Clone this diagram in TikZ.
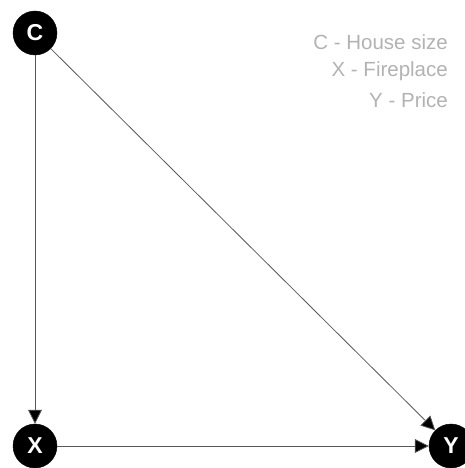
\documentclass[tikz,border=0pt]{standalone}
\usepackage{fontspec}
\setmainfont{Liberation Sans}
\usetikzlibrary{arrows.meta}
\begin{document}
\begin{tikzpicture}[x=1pt,y=1pt,
  var/.style={circle,fill=black,draw=black,minimum size=44pt,inner sep=0pt,text=white,font=\fontsize{23}{23}\selectfont\bfseries},
  edge/.style={draw=black!65,line width=0.8pt,-{Triangle[length=14pt,width=14pt,fill=black]}},
  legend/.style={text=black!30,font=\fontsize{20.5}{20.5}\selectfont,anchor=east,inner sep=0pt}]
\useasboundingbox (0,0) rectangle (465,468);
\node[var] (C) at (35,435) {C};
\node[var] (X) at (35,22) {X};
\node[var] (Y) at (451,22) {Y};
\draw[edge] (C) -- (X);
\draw[edge] (C) -- (Y);
\draw[edge] (X) -- (Y);
\node[legend] (l1) at (448,426) {C - House size};
\node[legend] (l2) at (448,397) {X - Fireplace};
\node[legend] (l3) at (448,368) {Y - Price};
\end{tikzpicture}
\end{document}
